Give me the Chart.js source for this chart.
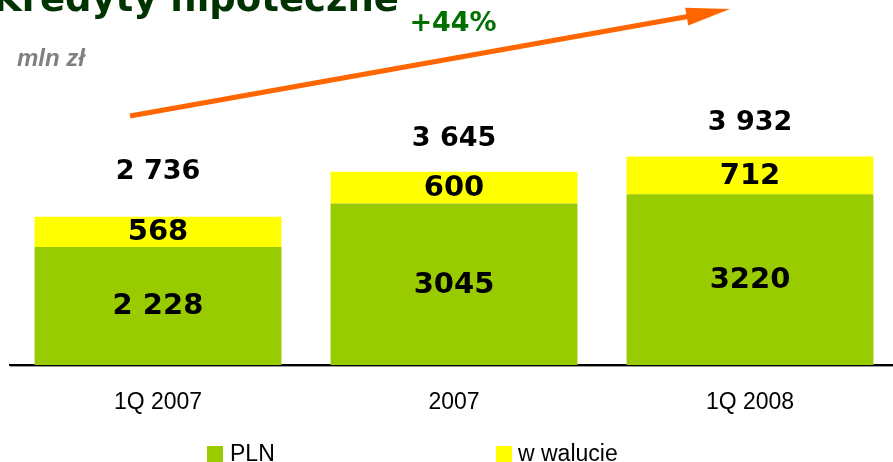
<!DOCTYPE html>
<html>
<head>
<meta charset="utf-8">
<script src="https://cdn.jsdelivr.net/npm/chart.js@4.4.0/dist/chart.umd.min.js"></script>
<style>
  html, body { margin: 0; padding: 0; background: #fff; overflow: hidden; }
  #wrap { width: 898px; height: 462px; position: relative; }
</style>
</head>
<body>
<div id="wrap"><canvas id="kredytyChart"></canvas></div>
<script>
// data (mln zł)
const categories = ['1Q 2007', '2007', '1Q 2008'];
const plnValues = [2228, 3045, 3220];
const walutaValues = [568, 600, 712];
const plnLabels = ['2 228', '3045', '3220'];
const walutaLabels = ['568', '600', '712'];
const totalLabels = ['2 736', '3 645', '3 932'];
const seriesNames = ['PLN', 'w walucie'];
const growthLabel = '+44%';

const GREEN = '#99CC00';
const YELLOW = '#FFFF00';
const SEG_FONT = 'bold 29px "DejaVu Sans", Verdana, sans-serif';
const TOTAL_FONT = 'bold 27px "DejaVu Sans", Verdana, sans-serif';

// labels on the bars + totals above them
const barLabels = {
    id: 'barLabels',
    afterDatasetsDraw(chart) {
        const ctx = chart.ctx;
        const segLabels = [plnLabels, walutaLabels];
        const totalOffsets = [45, 33, 34];
        ctx.save();
        ctx.fillStyle = '#000';
        ctx.textAlign = 'center';
        ctx.textBaseline = 'middle';
        ctx.font = SEG_FONT;
        chart.data.datasets.forEach((ds, di) => {
            const meta = chart.getDatasetMeta(di);
            meta.data.forEach((bar, i) => {
                const mid = (bar.y + bar.base) / 2;
                ctx.fillText(segLabels[di][i], bar.x, mid + 1);
            });
        });
        ctx.font = TOTAL_FONT;
        const topMeta = chart.getDatasetMeta(chart.data.datasets.length - 1);
        topMeta.data.forEach((bar, i) => {
            ctx.fillText(totalLabels[i], bar.x, bar.y - totalOffsets[i]);
        });
        ctx.restore();
    }
};

// title, unit, growth arrow and legend
const decorations = {
    id: 'decorations',
    afterDraw(chart) {
        const ctx = chart.ctx;
        ctx.save();

        ctx.fillStyle = '#003300';
        ctx.font = 'bold 37px "DejaVu Sans", Verdana, sans-serif';
        ctx.textAlign = 'left';
        ctx.textBaseline = 'alphabetic';
        ctx.fillText('Kredyty hipoteczne', -7, 11);

        ctx.fillStyle = '#808080';
        ctx.font = 'italic bold 24px "Liberation Sans", Arial, sans-serif';
        ctx.fillText('mln zł', 17, 66);

        ctx.fillStyle = '#007000';
        ctx.font = 'bold 27px "DejaVu Sans", Verdana, sans-serif';
        ctx.textAlign = 'center';
        ctx.textBaseline = 'middle';
        ctx.fillText(growthLabel, 453, 24);

        // arrow
        const x0 = 130, y0 = 116, x1 = 730, y1 = 9;
        const len = Math.hypot(x1 - x0, y1 - y0);
        const ux = (x1 - x0) / len, uy = (y1 - y0) / len;
        const headLen = 44, headHalf = 9;
        const bx = x1 - ux * headLen, by = y1 - uy * headLen;
        ctx.strokeStyle = '#FF6600';
        ctx.fillStyle = '#FF6600';
        ctx.lineWidth = 5;
        ctx.beginPath();
        ctx.moveTo(x0, y0);
        ctx.lineTo(bx + ux * 4, by + uy * 4);
        ctx.stroke();
        ctx.beginPath();
        ctx.moveTo(x1, y1);
        ctx.lineTo(bx - uy * headHalf, by + ux * headHalf);
        ctx.lineTo(bx + uy * headHalf, by - ux * headHalf);
        ctx.closePath();
        ctx.fill();

        // gray shade under the axis line
        const area = chart.chartArea;
        ctx.fillStyle = '#9a9a9a';
        ctx.fillRect(10, area.bottom + 1, chart.width, 1);

        // legend
        const legendX = [[207, 230], [496, 518]];
        ctx.font = '23px "Liberation Sans", Arial, sans-serif';
        ctx.textAlign = 'left';
        ctx.textBaseline = 'alphabetic';
        chart.data.datasets.forEach((ds, i) => {
            ctx.fillStyle = ds.backgroundColor;
            ctx.fillRect(legendX[i][0], 446, 16, 16);
            ctx.fillStyle = '#000';
            ctx.fillText(ds.label, legendX[i][1], 461);
        });
        ctx.restore();
    }
};

const ctx = document.getElementById('kredytyChart').getContext('2d');
const chart = new Chart(ctx, {
    type: 'bar',
    data: {
        labels: categories,
        datasets: [
            {
                label: seriesNames[0],
                data: plnValues,
                backgroundColor: GREEN,
                borderWidth: 0
            },
            {
                label: seriesNames[1],
                data: walutaValues,
                backgroundColor: YELLOW,
                borderWidth: 0
            }
        ]
    },
    options: {
        responsive: true,
        maintainAspectRatio: false,
        animation: false,
        datasets: {
            bar: { categoryPercentage: 1, barPercentage: 0.834 }
        },
        layout: { padding: { top: 100, left: 10, right: 0, bottom: 0 } },
        plugins: {
            legend: { display: false },
            title: { display: false },
            tooltip: { enabled: false }
        },
        scales: {
            x: {
                stacked: true,
                grid: { display: false, drawTicks: false },
                border: { display: true, color: '#000', width: 2 },
                ticks: {
                    color: '#000',
                    padding: 24,
                    font: { family: '"Liberation Sans", Arial, sans-serif', size: 23 }
                },
                afterFit: scale => { scale.height = 97; }
            },
            y: {
                stacked: true,
                display: false,
                min: 0,
                max: 5000
            }
        }
    },
    plugins: [barLabels, decorations]
});
</script>
</body>
</html>
